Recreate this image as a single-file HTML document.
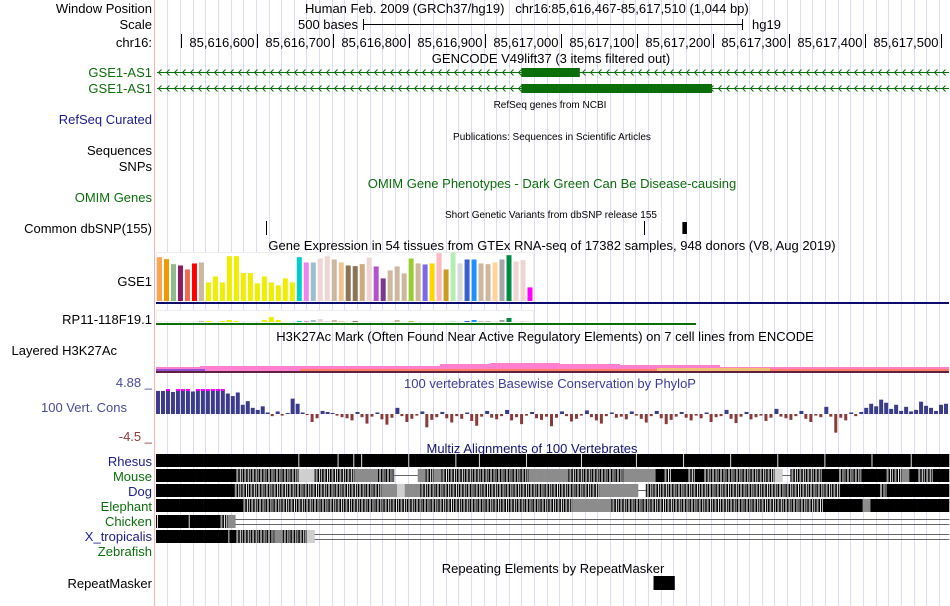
<!DOCTYPE html>
<html><head><meta charset="utf-8"><title>UCSC Genome Browser</title>
<style>
html,body{margin:0;padding:0;background:#fff;}
svg{display:block;font-family:"Liberation Sans",Arial,sans-serif;}
</style></head>
<body>
<svg id="gb" width="950" height="606" viewBox="0 0 950 606" xmlns="http://www.w3.org/2000/svg">
<g id="grid"></g>
<line x1="154.5" y1="0" x2="154.5" y2="606" stroke="#ffb0b0" stroke-width="1"/>
<g font-size="13" fill="#000" text-anchor="end">
 <text x="152" y="13">Window Position</text>
 <text x="152" y="29">Scale</text>
 <text x="152" y="47">chr16:</text>
 <text x="152" y="77" fill="#0b6e0b">GSE1-AS1</text>
 <text x="152" y="93" fill="#0b6e0b">GSE1-AS1</text>
 <text x="152" y="124" fill="#1c1c8c">RefSeq Curated</text>
 <text x="152" y="155">Sequences</text>
 <text x="152" y="171">SNPs</text>
 <text x="152" y="202" fill="#0b6e0b">OMIM Genes</text>
 <text x="152" y="233">Common dbSNP(155)</text>
 <text x="152" y="286">GSE1</text>
 <text x="152" y="324">RP11-118F19.1</text>
 <text x="117" y="355">Layered H3K27Ac</text>
 <text x="152" y="387" fill="#4a4a9a">4.88 _</text>
 <text x="127" y="412" fill="#4a4a9a">100 Vert. Cons</text>
 <text x="152" y="441" fill="#8b3a3a">-4.5 _</text>
 <text x="152" y="466" fill="#1c1c8c">Rhesus</text>
 <text x="152" y="481" fill="#0b6e0b">Mouse</text>
 <text x="152" y="496" fill="#1c1c8c">Dog</text>
 <text x="152" y="511" fill="#0b6e0b">Elephant</text>
 <text x="152" y="526" fill="#0b6e0b">Chicken</text>
 <text x="152" y="541" fill="#1c1c8c">X_tropicalis</text>
 <text x="152" y="556" fill="#0b6e0b">Zebrafish</text>
 <text x="152" y="588">RepeatMasker</text>
</g>
<g font-size="13" fill="#000">
 <text x="305" y="13" xml:space="preserve">Human Feb. 2009 (GRCh37/hg19)   chr16:85,616,467-85,617,510 (1,044 bp)</text>
 <text x="358" y="29" text-anchor="end">500 bases</text>
 <text x="752" y="29">hg19</text>
 <text x="551" y="63" text-anchor="middle">GENCODE V49lift37 (3 items filtered out)</text>
 <text x="550" y="108" text-anchor="middle" font-size="10">RefSeq genes from NCBI</text>
 <text x="552" y="140" text-anchor="middle" font-size="10">Publications: Sequences in Scientific Articles</text>
 <text x="552" y="188" text-anchor="middle" fill="#0b6e0b">OMIM Gene Phenotypes - Dark Green Can Be Disease-causing</text>
 <text x="551" y="218" text-anchor="middle" font-size="10">Short Genetic Variants from dbSNP release 155</text>
 <text x="552" y="250" text-anchor="middle">Gene Expression in 54 tissues from GTEx RNA-seq of 17382 samples, 948 donors (V8, Aug 2019)</text>
 <text x="545" y="341" text-anchor="middle">H3K27Ac Mark (Often Found Near Active Regulatory Elements) on 7 cell lines from ENCODE</text>
 <text x="550" y="388" text-anchor="middle" fill="#3c3c9a">100 vertebrates Basewise Conservation by PhyloP</text>
 <text x="532" y="453" text-anchor="middle" fill="#14146e">Multiz Alignments of 100 Vertebrates</text>
 <text x="553" y="573" text-anchor="middle">Repeating Elements by RepeatMasker</text>
</g>
<g id="ruler"></g>
<g id="genes"></g>
<g id="snp"></g>
<g id="gtex"></g>
<g id="h3k"></g>
<g id="cons"></g>
<g id="multiz"></g>
<g id="rmsk"></g>
</svg>
<script>
// ---------- data ----------
const winStart = 85616467;
const winEnd = 85617510;
const rulerTicks = [85616500,85616600,85616700,85616800,85616900,85617000,85617100,85617200,85617300,85617400,85617500];
const rulerLabels = ["","85,616,600","85,616,700","85,616,800","85,616,900","85,617,000","85,617,100","85,617,200","85,617,300","85,617,400","85,617,500"];
const geneExonStarts = [85616948,85616948];
const geneExonEnds = [85617025,85617199];
const snpPositions = [85616612,85617110];
const snpBlock = [85617160,85617166];
const gtexValues = [132,126,111,107,95,113,116,56,74,56,135,135,84,84,53,74,56,47,68,56,132,116,116,128,135,125,116,107,105,111,131,104,68,92,104,83,128,113,110,113,144,95,146,113,125,125,113,111,116,125,138,119,123,41];
const gtexColors = ["#FFA54F","#EE9A00","#8FBC8F","#8B1C62","#EE6A50","#FF0000","#CDB79E","#EEEE00","#EEEE00","#EEEE00","#EEEE00","#EEEE00","#EEEE00","#EEEE00","#EEEE00","#EEEE00","#EEEE00","#EEEE00","#EEEE00","#EEEE00","#00CDCD","#EE82EE","#9AC0CD","#EED5D2","#EED5D2","#CDB79E","#EEC591","#8B7355","#8B7355","#CDAA7D","#EED5D2","#B452CD","#7A378B","#CDB79E","#CDB79E","#CDB79E","#9ACD32","#CDB79E","#7B68EE","#FFD700","#FFB6C1","#CD9B1D","#B4EEB4","#D9D9D9","#3A5FCD","#1E90FF","#CDB79E","#CDB79E","#FFD39B","#A6A6A6","#008B45","#EED5D2","#EED5D2","#FF00FF"];
const rp11Values = [0,0,0,0,0,0,3,3,0,3,6,3,0,0,0,6,15,6,0,0,3,3,6,9,3,6,3,0,3,0,0,0,0,0,6,0,3,0,0,0,0,0,3,0,3,6,3,3,0,6,12,0,3,0];
const consValues = [4.5,4.5,4.6,4.3,4.8,4.8,4.7,4.4,4.8,4.8,4.6,4.8,4.8,4.8,4.0,3.5,4.2,1.8,2.5,1.2,0.8,1.5,0.3,-0.4,0.5,-0.3,0.2,3.0,2.0,0.3,-0.2,-1.5,-0.8,0.6,0.4,0.2,-0.3,-0.6,-0.8,-1.2,0.4,-0.6,-1.8,-0.5,0.3,-1.0,-2.0,-0.7,1.2,-0.4,-1.5,-0.9,-0.3,0.5,-2.5,-1.1,-0.6,0.4,-0.8,-1.6,-0.4,-0.9,0.3,-1.3,-2.2,-0.5,0.6,-0.7,-1.0,-0.4,0.8,-1.2,-0.6,-1.9,-0.3,0.4,-0.8,-1.1,-0.5,-2.3,-0.7,0.5,-0.4,-1.4,-0.9,-0.3,0.7,-0.6,-1.2,-1.8,-0.4,0.3,-0.7,-0.5,-1.0,0.5,-0.3,-0.9,-1.6,-0.4,0.6,-0.8,-1.9,-1.1,-0.5,0.4,-0.7,-1.2,-0.3,-0.8,0.3,-1.5,-0.6,-0.4,0.8,-0.9,-1.7,-0.5,0.4,-1.0,-0.6,-0.3,-1.3,-0.7,1.0,-0.5,-0.8,-1.1,-0.4,0.6,-0.9,-1.5,-0.3,-0.6,1.4,-0.5,-3.5,-0.7,-1.2,0.3,-0.4,0.4,1.2,2.0,1.5,2.8,2.2,1.0,1.8,0.6,1.4,0.5,0.8,2.4,1.6,1.2,0.6,1.8,2.0];
const multizSpecies = ["rhesus","mouse","dog","elephant","chicken","x-tropicalis"];
const multizRows = [
 "KKKKKKKKKKKKKKKKKKkKKKKkKkkKKKKKkKKKKKkKKkKKKKKkKKKKKKkKKKKKKkKKKKKkKKKKKkKKKKKkKKKKKkKKKKKkKKKKkKKKK",
 "KKKKKKKKKKMMMMMMMMLLMMMMMGGGMM---GMGMMMMMMMMMMMGGGGGMMMMMMMGGGGKMKKMKMMMMMMMMML-MMMMKKMMMKKKMMGKMMKK",
 "KKKKKKKKKKMMMMMMMMMMMMMMMMMMMGGLGGMMMMMMMMMMMMMMMMMMMMMMMGGGGG-MMMMMMMMMMMMMMMMMMMMMMMMMKKKKKMKKKKKKKK",
 "KKKKKKKKKKKMMMMMMMMMMMMMMMMMMMMMMMMMMMMMMMMMMMMMMMMMMGGGGGMMMMMMMMMMMMMMMMMMMMMMMMMMMKKKKKGKKKKKKKKKK",
 "kKKKkKKKMG==========================================================================================",
 "KKKKKKKKKkMMMMMGMMML================================================================================"
];
const repeatStart = [85617122];
const repeatEnd = [85617150];

// ---------- helpers ----------
const NS = "http://www.w3.org/2000/svg";
const X0 = 156, X1 = 949;
const xScale = bp => X0 + (bp - winStart) * (X1 - X0) / (winEnd - winStart + 1);
function mk(tag, attrs, parent){
  const e = document.createElementNS(NS, tag);
  for (const k in attrs) e.setAttribute(k, attrs[k]);
  parent.appendChild(e); return e;
}
const $ = id => document.getElementById(id);

// grid
for (let gx = 167.3; gx < 950; gx += 12.65) {
  const l = mk("line", {x1: Math.round(gx)+0.5, x2: Math.round(gx)+0.5, y1: 0, y2: 606, stroke: "#dcdcf6", "stroke-width": 1}, $("grid"));
  
  
}

// ruler
{
  const g = $("ruler");
  const sb = mk("path", {d: "M363.5 19V30M363.5 24.5H742.5M742.5 19V30", stroke: "#000", fill: "none"}, g);
  
  
  rulerTicks.forEach((bp, i) => {
    const x = Math.round(xScale(bp)) + 0.5;
    const t = mk("line", {x1: x, x2: x, y1: 34, y2: 48, stroke: "#000"}, g);
    
    
    if (rulerLabels[i]) {
      const tx = mk("text", {x: x - 3, y: 47, "font-size": 13, "text-anchor": "end"}, g);
      tx.textContent = rulerLabels[i];
      
      
    }
  });
}

// genes
{
  const g = $("genes");
  const rowsY = [72.5, 88.5];
  rowsY.forEach((y, r) => {
    const ln = mk("line", {x1: 157, x2: 949, y1: y, y2: y, stroke: "#0b6e0b", "stroke-width": 1}, g);
    
    
    let d = "";
    for (let x = 158; x < 947; x += 8) d += `M${x+3.5} ${y-3}L${x+0.5} ${y}L${x+3.5} ${y+3}`;
    const ch = mk("path", {d: d, stroke: "#0b6e0b", fill: "none", "stroke-width": 1}, g);
    
    
    const xa = xScale(geneExonStarts[r]), xb = xScale(geneExonEnds[r]);
    const ex = mk("rect", {x: xa, y: y - 4.5, width: xb - xa, height: 9, fill: "#0b6e0b"}, g);
    
    
  });
}

// dbSNP
{
  const g = $("snp");
  snpPositions.forEach(bp => {
    const x = Math.round(xScale(bp)) + 0.5;
    const m = mk("line", {x1: x, x2: x, y1: 221, y2: 235, stroke: "#000"}, g);
    
    
  });
  const xa = xScale(snpBlock[0]), xb = xScale(snpBlock[1]);
  const b = mk("rect", {x: xa, y: 222, width: xb - xa, height: 12, fill: "#000"}, g);
  
  
}

// GTEx
{
  const g = $("gtex");
  const box = mk("rect", {x: 156.5, y: 252.5, width: 377, height: 48, fill: "#fff", stroke: "#eeeeee"}, g);
  
  
  const maxV = 146, baseY = 301, H = 48.5;
  gtexValues.forEach((v, i) => {
    const h = v / maxV * H;
    const b = mk("rect", {x: 157 + i * 6.99, y: baseY - h, width: 5, height: h, fill: gtexColors[i]}, g);
    
    
  });
  const nav = mk("rect", {x: 156, y: 302, width: 793, height: 2, fill: "#0c0c6e"}, g);
  
  
  const box2 = mk("rect", {x: 156.5, y: 310.5, width: 377, height: 11, fill: "#fff", stroke: "#eeeeee"}, g);
  
  
  rp11Values.forEach((v, i) => {
    const h = v / 3;
    if (h <= 0) return;
    const b = mk("rect", {x: 157 + i * 6.99, y: 322 - h, width: 5, height: h, fill: gtexColors[i]}, g);
    
    
  });
  const gr = mk("rect", {x: 156, y: 323, width: 540, height: 2, fill: "#0b6e0b"}, g);
  
  
}

// H3K27Ac layered
{
  const g = $("h3k");
  const parts = [
    ["#ff80d0", "M156 372L156 367L200 367L200 366L440 366L440 364L490 364L490 363L560 363L560 364L620 364L620 365L720 365L720 367L949 367L949 372Z"],
    ["#ff8060", "M300 372L300 369L949 369L949 372Z"],
    ["#9050d0", "M156 372L156 369L205 369L205 372Z"],
    ["#f0c070", "M657 372L657 368L770 368L770 372Z"],
    ["#602040", "M156 371H949V373H156Z"]
  ];
  parts.forEach(p => {
    const e = mk("path", {d: p[1], fill: p[0]}, g);
    
    
  });
}

// PhyloP conservation
{
  const g = $("cons");
  const zeroY = 414, upPx = 25 / 4.88, dnPx = 24 / 4.5;
  const w = (X1 - X0) / consValues.length;
  consValues.forEach((v, i) => {
    const x = X0 + i * w;
    let b;
    if (v >= 0) {
      const h = v * upPx;
      b = mk("rect", {x: x, y: zeroY - h, width: Math.max(1, w - 1), height: h, fill: "#3c3c8c"}, g);
      if (v >= 4.6) {
        const c = mk("rect", {x: x, y: 389, width: Math.max(1, w - 1), height: 2, fill: "#ff00ff"}, g);
        
        
      }
    } else {
      const h = -v * dnPx;
      b = mk("rect", {x: x, y: zeroY, width: Math.max(1, w - 2), height: h, fill: "#8b3a3a"}, g);
    }
    
    
  });
}

// Multiz
{
  const g = $("multiz");
  const rowY = [454, 469, 484, 499, 515, 530];
  const rowH = 13;
  multizRows.forEach((s, r) => {
    const cw = (X1 - X0) / s.length;
    const y = rowY[r];
    for (let i = 0; i < s.length; i++) {
      const c = s[i], x = X0 + i * cw;
      let e = null;
      if (c === "K" || c === "k" || c === "M") {
        e = mk("rect", {x: x, y: y, width: cw + 0.3, height: rowH, fill: "#000"}, g);
        if (c === "k") { const l = mk("rect", {x: x + 1, y: y, width: 1, height: rowH, fill: "#ddd"}, g);
            }
        if (c === "M") {
          const s1 = mk("rect", {x: x + 1, y: y, width: 2, height: rowH, fill: "#999"}, g);
           
          const s2 = mk("rect", {x: x + 4.5, y: y, width: 1, height: rowH, fill: "#eee"}, g);
           
          const s3 = mk("rect", {x: x + 6.5, y: y, width: 1, height: rowH, fill: "#bbb"}, g);
           
        }
      } else if (c === "G") {
        e = mk("rect", {x: x, y: y, width: cw + 0.3, height: rowH, fill: "#8c8c8c"}, g);
      } else if (c === "L") {
        e = mk("rect", {x: x, y: y, width: cw + 0.3, height: rowH, fill: "#cfcfcf"}, g);
      } else if (c === "-") {
        e = mk("rect", {x: x, y: y + 6, width: cw + 0.3, height: 1, fill: "#666"}, g);
      } else if (c === "=") {
        e = mk("path", {d: `M${x} ${y+4.5}H${x+cw+0.3}M${x} ${y+9.5}H${x+cw+0.3}`, stroke: "#666", "stroke-width": 1}, g);
      }
      if (e) {
        
        
      }
    }
  });
}

// RepeatMasker
{
  const g = $("rmsk");
  repeatStart.forEach((bp, i) => {
    const xa = xScale(bp), xb = xScale(repeatEnd[i]);
    const r = mk("rect", {x: xa, y: 576, width: xb - xa, height: 14, fill: "#000"}, g);
    
    
  });
}
</script>
</body></html>
